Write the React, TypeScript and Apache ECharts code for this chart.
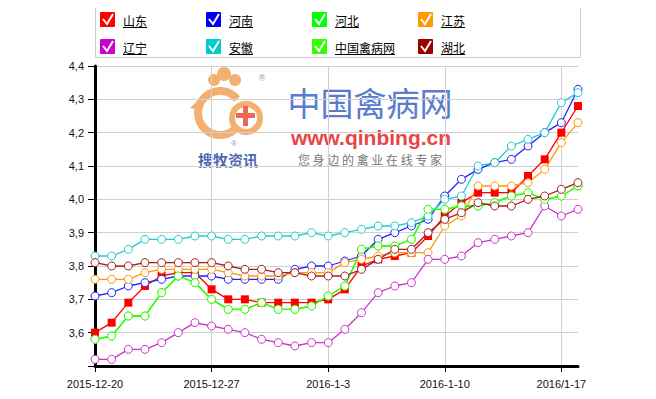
import React, { useEffect, useRef } from "react";
import * as echarts from "echarts";

const dates = [
  "2015-12-20", "2015-12-21", "2015-12-22", "2015-12-23", "2015-12-24", "2015-12-25",
  "2015-12-26", "2015-12-27", "2015-12-28", "2015-12-29", "2015-12-30", "2015-12-31",
  "2016-1-1", "2016-1-2", "2016-1-3", "2016-1-4", "2016-1-5", "2016-1-6",
  "2016-1-7", "2016-1-8", "2016-1-9", "2016-1-10", "2016-1-11", "2016-1-12",
  "2016-1-13", "2016-1-14", "2016-1-15", "2016-1-16", "2016/1-17", "2016-1-18",
];

const shandong = [3.60, 3.63, 3.69, 3.74, 3.77, 3.78, 3.78, 3.73, 3.70, 3.70, 3.69, 3.69, 3.69, 3.69, 3.70, 3.73, 3.80, 3.82, 3.83, 3.84, 3.89, 3.95, 3.99, 4.02, 4.02, 4.02, 4.07, 4.12, 4.20, 4.28];
const henan = [3.71, 3.72, 3.74, 3.75, 3.76, 3.77, 3.77, 3.77, 3.76, 3.76, 3.76, 3.76, 3.79, 3.80, 3.80, 3.815, 3.83, 3.88, 3.90, 3.92, 3.94, 4.01, 4.06, 4.09, 4.11, 4.12, 4.16, 4.20, 4.23, 4.33];
const hebei = [3.58, 3.59, 3.65, 3.65, 3.72, 3.77, 3.75, 3.70, 3.67, 3.67, 3.69, 3.67, 3.67, 3.68, 3.71, 3.74, 3.85, 3.86, 3.86, 3.88, 3.97, 3.97, 3.98, 3.98, 3.99, 4.01, 4.02, 4.00, 4.01, 4.04];
const jiangsu = [3.76, 3.76, 3.76, 3.78, 3.79, 3.79, 3.79, 3.79, 3.78, 3.77, 3.77, 3.77, 3.78, 3.78, 3.78, 3.81, 3.82, 3.83, 3.84, 3.84, 3.84, 3.92, 3.95, 4.04, 4.04, 4.04, 4.05, 4.09, 4.17, 4.23];
const liaoning = [3.52, 3.52, 3.55, 3.55, 3.57, 3.60, 3.63, 3.62, 3.61, 3.60, 3.58, 3.57, 3.56, 3.57, 3.57, 3.61, 3.66, 3.72, 3.74, 3.75, 3.82, 3.82, 3.83, 3.87, 3.88, 3.89, 3.90, 3.98, 3.95, 3.97];
const anhui = [3.83, 3.83, 3.85, 3.88, 3.88, 3.88, 3.89, 3.89, 3.88, 3.88, 3.89, 3.89, 3.89, 3.90, 3.89, 3.90, 3.91, 3.92, 3.92, 3.93, 3.95, 4.00, 4.01, 4.10, 4.11, 4.16, 4.18, 4.20, 4.29, 4.32];
const zhongguo = [3.58, 3.59, 3.65, 3.65, 3.72, 3.77, 3.75, 3.70, 3.67, 3.67, 3.69, 3.67, 3.67, 3.68, 3.71, 3.74, 3.85, 3.86, 3.86, 3.88, 3.97, 3.97, 3.98, 3.98, 3.99, 4.01, 4.02, 4.00, 4.01, 4.04];
const hubei = [3.81, 3.80, 3.80, 3.81, 3.81, 3.81, 3.81, 3.81, 3.80, 3.79, 3.79, 3.78, 3.78, 3.77, 3.77, 3.77, 3.79, 3.82, 3.85, 3.85, 3.90, 3.94, 3.96, 3.99, 3.98, 3.98, 4.00, 4.01, 4.03, 4.05];

const seriesNames = ["山东", "河南", "河北", "江苏", "辽宁", "安徽", "中国禽病网", "湖北"];
const seriesData = [shandong, henan, hebei, jiangsu, liaoning, anhui, zhongguo, hubei];
const lineColors = ["#ff0000", "#2222ff", "#22ee22", "#ff9900", "#cc33cc", "#22cccc", "#33ff00", "#a02020"];
const legendColors = ["#ff0000", "#0000ee", "#00ff00", "#ff9900", "#cc00cc", "#00cccc", "#33ff00", "#990000"];

export default function App() {
  const ref = useRef<HTMLDivElement>(null);
  useEffect(() => {
    if (!ref.current) return;
    const chart = echarts.init(ref.current, undefined, { renderer: "svg" });

    const legendGraphics: any[] = [
      {
        type: "rect",
        shape: { x: 95.5, y: 6.5, width: 485, height: 51 },
        style: { fill: "#fff", stroke: "#cccccc", lineWidth: 1 },
        z: 10,
      },
    ];
    const colX = [100, 206, 312, 418];
    const rowY = [12, 39];
    seriesNames.forEach((name, i) => {
      const cx = colX[i % 4];
      const cy = rowY[Math.floor(i / 4)];
      legendGraphics.push({
        type: "rect",
        shape: { x: cx, y: cy, width: 15, height: 15, r: 1 },
        style: { fill: legendColors[i] },
        z: 11,
      });
      legendGraphics.push({
        type: "polyline",
        shape: { points: [[cx + 3, cy + 7], [cx + 7, cy + 12], [cx + 13, cy + 2]] },
        style: { stroke: "#ffffff", lineWidth: 2, fill: null },
        z: 12,
      });
      legendGraphics.push({
        type: "text",
        x: cx + 23,
        y: cy + 8,
        style: {
          text: name,
          font: '12px "Noto Sans CJK SC"',
          fill: "#000",
          verticalAlign: "middle",
          align: "left",
        },
        z: 12,
      });
      const w = name.length * 12;
      legendGraphics.push({
        type: "line",
        shape: { x1: cx + 23, y1: cy + 15.5, x2: cx + 23 + w, y2: cy + 15.5 },
        style: { stroke: "#000", lineWidth: 1 },
        z: 12,
      });
    });

    const watermark: any[] = [
      { type: "circle", shape: { cx: 214, cy: 80, r: 6 }, style: { fill: "#f4b070" }, z: 0 },
      { type: "circle", shape: { cx: 224, cy: 74, r: 7 }, style: { fill: "#f4b070" }, z: 0 },
      { type: "circle", shape: { cx: 235, cy: 80, r: 6 }, style: { fill: "#f4b070" }, z: 0 },
      { type: "arc", shape: { cx: 220, cy: 113, r: 22, startAngle: 0.6, endAngle: 5.6 }, style: { stroke: "#f4b070", lineWidth: 8, fill: null }, z: 0 },
      { type: "circle", shape: { cx: 246, cy: 118, r: 14 }, style: { fill: "none", stroke: "#f4b070", lineWidth: 6 }, z: 0 },
      { type: "rect", shape: { x: 243, y: 106, width: 5, height: 20 }, style: { fill: "#ee6655" }, z: 0 },
      { type: "rect", shape: { x: 236, y: 113, width: 19, height: 5 }, style: { fill: "#ee6655" }, z: 0 },
      { type: "polygon", shape: { points: [[198, 100], [190, 108], [200, 110]] }, style: { fill: "#f4b070" }, z: 0 },
      { type: "text", x: 262, y: 78, style: { text: "®", font: "9px sans-serif", fill: "#999", align: "center", verticalAlign: "middle" }, z: 0 },
      { type: "text", x: 234, y: 143, style: { text: "®", font: "8px sans-serif", fill: "#999", align: "center", verticalAlign: "middle" }, z: 0 },
      { type: "text", x: 228, y: 159, style: { text: "搜牧资讯", font: 'bold 15px "Noto Sans CJK SC"', fill: "#4a68b4", align: "center", verticalAlign: "middle" }, z: 0 },
      { type: "text", x: 370, y: 102, style: { text: "中国禽病网", font: '33px "Noto Sans CJK SC"', fill: "#5a7bcf", align: "center", verticalAlign: "middle" }, z: 0 },
      { type: "text", x: 371, y: 137, style: { text: "www.qinbing.cn", font: 'bold 21px "Liberation Sans"', fill: "#e84545", align: "center", verticalAlign: "middle" }, z: 0 },
      { type: "text", x: 370, y: 159, style: { text: "您 身 边 的 禽 业 在 线 专 家", font: '12px "Noto Sans CJK SC"', fill: "#777", align: "center", verticalAlign: "middle" }, z: 0 },
    ];

    chart.setOption({
      animation: false,
      backgroundColor: "#ffffff",
      grid: { left: 95, top: 66, right: 78, bottom: 33, containLabel: false },
      xAxis: {
        type: "category",
        data: dates,
        boundaryGap: false,
        axisLine: { show: true, lineStyle: { color: "#000", width: 3 } },
        axisTick: { show: true, interval: 6, length: 6, lineStyle: { color: "#000", width: 1 } },
        axisLabel: {
          interval: 6,
          margin: 12,
          color: "#111",
          fontSize: 11,
          fontFamily: "Liberation Sans",
        },
        splitLine: { show: true, interval: 6, lineStyle: { color: "#d0d0d0", width: 1 } },
      },
      yAxis: {
        type: "value",
        min: 3.5,
        max: 4.4,
        interval: 0.1,
        axisLine: { show: true, onZero: false, lineStyle: { color: "#000", width: 3 } },
        axisTick: { show: true, length: 7, lineStyle: { color: "#000", width: 1 } },
        axisLabel: {
          margin: 11,
          color: "#111",
          fontSize: 11,
          fontFamily: "Liberation Sans",
          formatter: (v: number) => (Math.abs(v - 3.5) < 1e-6 ? "" : v.toFixed(1).replace(".", ",")),
        },
        splitLine: { show: true, lineStyle: { color: "#d0d0d0", width: 1 } },
      },
      series: seriesNames.map((name, i) => ({
        name,
        type: "line",
        data: seriesData[i],
        symbol: i === 0 ? "rect" : "circle",
        symbolSize: i === 0 ? 8 : 8,
        showSymbol: true,
        lineStyle: { color: lineColors[i], width: 1.3 },
        itemStyle:
          i === 0
            ? { color: lineColors[i], borderWidth: 0 }
            : { color: "#ffffff", borderColor: lineColors[i], borderWidth: 1 },
        z: 3,
      })),
      graphic: [...watermark, ...legendGraphics],
    });

    return () => chart.dispose();
  }, []);

  return <div ref={ref} style={{ width: 656, height: 399, margin: -8 }} />;
}
